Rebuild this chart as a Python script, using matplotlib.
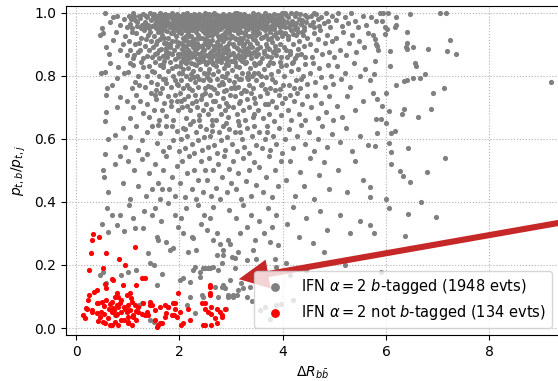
import matplotlib
matplotlib.use("Agg")
import matplotlib.pyplot as plt
import numpy as np

# gray points: IFN alpha=2, b-tagged (band by band in y)
gray_y95 = [
    (0.50, 0.95), (0.57, 1.0), (0.66, 0.97), (0.79, 0.99), (0.85, 0.96), (0.93, 0.98), (0.98, 0.955), (0.72, 0.985),
    (1.02, 0.99), (1.05, 0.965), (1.09, 0.952), (1.11, 0.998), (1.15, 0.975), (1.18, 0.958), (1.21, 0.99), (1.24, 0.982),
    (1.27, 0.96), (1.3, 0.995), (1.33, 0.97), (1.35, 0.953), (1.38, 0.985), (1.4, 0.962), (1.43, 0.998), (1.45, 0.975),
    (1.47, 0.956), (1.49, 0.988), (1.07, 0.98), (1.19, 0.97), (1.26, 0.95), (1.36, 0.99), (1.42, 0.95), (1.13, 0.99), (1.32, 0.96),
    (1.51, 0.996), (1.52, 0.963), (1.54, 0.978), (1.55, 0.951), (1.57, 0.99), (1.58, 0.969), (1.6, 0.955), (1.61, 0.984),
    (1.63, 0.999), (1.64, 0.961), (1.66, 0.974), (1.67, 0.952), (1.69, 0.988), (1.7, 0.966), (1.72, 0.995), (1.73, 0.957),
    (1.75, 0.979), (1.76, 0.962), (1.78, 0.992), (1.79, 0.971), (1.81, 0.953), (1.82, 0.986), (1.84, 0.965), (1.85, 0.998),
    (1.87, 0.976), (1.88, 0.955), (1.9, 0.989), (1.91, 0.968), (1.93, 0.96), (1.94, 0.982), (1.96, 0.997), (1.97, 0.951),
    (1.99, 0.973), (1.53, 0.987), (1.62, 0.972), (1.71, 0.98), (1.8, 0.96), (1.89, 0.975), (1.95, 0.965), (1.65, 0.991),
    (2.01, 0.99), (2.02, 0.962), (2.04, 0.977), (2.05, 0.953), (2.07, 0.996), (2.08, 0.968), (2.1, 0.984), (2.11, 0.957),
    (2.13, 0.972), (2.14, 0.999), (2.16, 0.961), (2.17, 0.988), (2.19, 0.95), (2.2, 0.975), (2.22, 0.993), (2.23, 0.964),
    (2.25, 0.981), (2.26, 0.955), (2.28, 0.97), (2.29, 0.997), (2.31, 0.959), (2.32, 0.986), (2.34, 0.967), (2.35, 0.951),
    (2.37, 0.979), (2.38, 0.994), (2.4, 0.963), (2.41, 0.973), (2.43, 0.99), (2.44, 0.956), (2.46, 0.983), (2.47, 0.969),
    (2.49, 0.998), (2.03, 0.985), (2.12, 0.993), (2.21, 0.958), (2.3, 0.976), (2.39, 0.952), (2.48, 0.96), (2.18, 0.97),
    (2.27, 0.989), (2.36, 0.962), (2.45, 0.975), (2.06, 0.958), (2.15, 0.98),
    (2.51, 0.965), (2.52, 0.991), (2.54, 0.954), (2.55, 0.978), (2.57, 0.996), (2.58, 0.961), (2.6, 0.983), (2.61, 0.97),
    (2.63, 0.952), (2.64, 0.988), (2.66, 0.974), (2.67, 0.999), (2.69, 0.958), (2.7, 0.981), (2.72, 0.966), (2.73, 0.993),
    (2.75, 0.955), (2.76, 0.976), (2.78, 0.962), (2.79, 0.986), (2.81, 0.951), (2.82, 0.972), (2.84, 0.997), (2.85, 0.959),
    (2.87, 0.98), (2.88, 0.968), (2.9, 0.99), (2.91, 0.953), (2.93, 0.975), (2.94, 0.964), (2.96, 0.995), (2.97, 0.957),
    (2.99, 0.982), (2.53, 0.969), (2.62, 0.96), (2.71, 0.99), (2.8, 0.975), (2.89, 0.96), (2.98, 0.97), (2.56, 0.985),
    (2.65, 0.963), (2.74, 0.972), (2.83, 0.985), (2.92, 0.99), (2.59, 0.952),
    (3.01, 0.968), (3.02, 0.992), (3.04, 0.955), (3.06, 0.979), (3.07, 0.998), (3.09, 0.962), (3.1, 0.985), (3.12, 0.971),
    (3.14, 0.952), (3.15, 0.989), (3.17, 0.966), (3.18, 0.994), (3.2, 0.958), (3.22, 0.977), (3.23, 0.963), (3.25, 0.996),
    (3.27, 0.954), (3.28, 0.982), (3.3, 0.969), (3.31, 0.99), (3.33, 0.957), (3.35, 0.975), (3.36, 0.961), (3.38, 0.987),
    (3.4, 0.95), (3.41, 0.972), (3.43, 0.998), (3.44, 0.964), (3.46, 0.981), (3.48, 0.956), (3.49, 0.991), (3.05, 0.975),
    (3.13, 0.96), (3.21, 0.99), (3.29, 0.97), (3.37, 0.96), (3.45, 0.975), (3.11, 0.998), (3.26, 0.97), (3.42, 0.985),
    (3.51, 0.973), (3.53, 0.995), (3.55, 0.958), (3.56, 0.982), (3.58, 0.966), (3.6, 0.99), (3.62, 0.953), (3.63, 0.977),
    (3.65, 0.998), (3.67, 0.962), (3.69, 0.985), (3.7, 0.969), (3.72, 0.951), (3.74, 0.993), (3.76, 0.975), (3.77, 0.958),
    (3.79, 0.988), (3.81, 0.966), (3.83, 0.997), (3.84, 0.955), (3.86, 0.979), (3.88, 0.963), (3.9, 0.992), (3.92, 0.971),
    (3.94, 0.954), (3.96, 0.986), (3.98, 0.968), (3.57, 0.97), (3.68, 0.96), (3.78, 0.98), (3.89, 0.98), (3.99, 0.999),
    (4.01, 0.978), (4.03, 0.957), (4.06, 0.993), (4.08, 0.969), (4.11, 0.985), (4.13, 0.953), (4.16, 0.998), (4.18, 0.974),
    (4.21, 0.961), (4.23, 0.989), (4.26, 0.967), (4.28, 0.952), (4.31, 0.981), (4.33, 0.996), (4.36, 0.963), (4.38, 0.977),
    (4.41, 0.955), (4.43, 0.991), (4.46, 0.97), (4.48, 0.985), (4.05, 0.999), (4.25, 0.999),
    (4.52, 0.962), (4.55, 0.988), (4.58, 0.971), (4.61, 0.953), (4.64, 0.996), (4.68, 0.979), (4.71, 0.958), (4.75, 0.985),
    (4.79, 0.966), (4.83, 0.999), (4.87, 0.972), (4.91, 0.955), (4.95, 0.99), (4.6, 0.999),
    (5.03, 0.975), (5.08, 0.998), (5.14, 0.958), (5.2, 0.985), (5.27, 0.966), (5.33, 0.999), (5.4, 0.972), (5.46, 0.955),
    (5.55, 0.99), (5.62, 0.962), (5.8, 0.972), (5.88, 1.0), (5.92, 0.974), (5.95, 1.0), (5.98, 0.955), (5.7, 0.985),
    (6.02, 0.948), (6.03, 1.0), (6.2, 0.985), (6.46, 0.995), (6.19, 0.961), (6.17, 0.954), (6.4, 0.938), (7.04, 1.0), (7.16, 1.0),
]

gray_y85 = [
    (0.46, 0.93), (0.53, 0.935), (0.59, 0.892), (0.72, 0.914), (0.85, 0.882), (0.63, 0.87), (0.78, 0.94), (0.9, 0.9),
    (0.98, 0.866), (0.95, 0.925),
    (1.02, 0.91), (1.05, 0.88), (1.08, 0.94), (1.12, 0.865), (1.15, 0.9), (1.17, 0.935), (1.2, 0.875), (1.24, 0.882),
    (1.26, 0.92), (1.29, 0.855), (1.31, 0.945), (1.34, 0.895), (1.37, 0.861), (1.39, 0.928), (1.42, 0.88), (1.45, 0.91),
    (1.48, 0.858), (1.1, 0.855), (1.22, 0.905), (1.35, 0.915), (1.44, 0.94), (1.49, 0.89),
    (1.51, 0.925), (1.53, 0.87), (1.55, 0.9), (1.56, 0.872), (1.58, 0.94), (1.6, 0.855), (1.62, 0.915), (1.64, 0.885),
    (1.66, 0.93), (1.68, 0.862), (1.7, 0.905), (1.72, 0.945), (1.74, 0.878), (1.75, 0.903), (1.77, 0.858), (1.79, 0.92),
    (1.81, 0.89), (1.83, 0.935), (1.85, 0.868), (1.86, 0.91), (1.88, 0.935), (1.9, 0.88), (1.92, 0.852), (1.94, 0.925),
    (1.96, 0.895), (1.98, 0.87), (1.99, 0.94), (1.57, 0.91), (1.65, 0.948), (1.73, 0.865), (1.8, 0.9), (1.87, 0.947),
    (1.93, 0.91), (1.97, 0.86), (1.61, 0.88),
    (2.01, 0.905), (2.02, 0.87), (2.04, 0.935), (2.05, 0.885), (2.07, 0.855), (2.08, 0.92), (2.1, 0.895), (2.11, 0.945),
    (2.13, 0.865), (2.14, 0.91), (2.16, 0.88), (2.17, 0.938), (2.19, 0.857), (2.2, 0.9), (2.22, 0.925), (2.23, 0.872),
    (2.25, 0.945), (2.26, 0.89), (2.28, 0.862), (2.29, 0.915), (2.31, 0.88), (2.32, 0.94), (2.34, 0.852), (2.35, 0.905),
    (2.37, 0.93), (2.38, 0.868), (2.4, 0.895), (2.41, 0.947), (2.43, 0.876), (2.44, 0.918), (2.46, 0.86), (2.47, 0.9),
    (2.49, 0.935), (2.03, 0.95), (2.12, 0.925), (2.21, 0.86), (2.3, 0.9), (2.39, 0.92), (2.48, 0.88), (2.06, 0.9),
    (2.15, 0.85), (2.24, 0.91), (2.33, 0.873), (2.42, 0.86), (2.09, 0.87),
    (2.51, 0.918), (2.52, 0.866), (2.54, 0.94), (2.55, 0.89), (2.57, 0.858), (2.58, 0.928), (2.6, 0.9), (2.61, 0.875),
    (2.63, 0.946), (2.64, 0.912), (2.66, 0.862), (2.67, 0.895), (2.69, 0.935), (2.7, 0.87), (2.72, 0.908), (2.73, 0.853),
    (2.75, 0.925), (2.76, 0.882), (2.78, 0.948), (2.79, 0.898), (2.81, 0.865), (2.82, 0.93), (2.84, 0.885), (2.85, 0.91),
    (2.87, 0.856), (2.88, 0.94), (2.9, 0.875), (2.91, 0.92), (2.93, 0.895), (2.94, 0.862), (2.96, 0.935), (2.97, 0.903),
    (2.99, 0.87), (2.53, 0.9), (2.62, 0.855), (2.71, 0.945), (2.8, 0.915), (2.89, 0.89), (2.98, 0.945), (2.56, 0.93),
    (2.65, 0.88), (2.74, 0.895), (2.83, 0.86), (2.92, 0.85), (2.59, 0.945),
    (3.01, 0.925), (3.03, 0.872), (3.04, 0.9), (3.06, 0.945), (3.08, 0.86), (3.09, 0.915), (3.11, 0.888), (3.13, 0.935),
    (3.14, 0.866), (3.16, 0.905), (3.18, 0.852), (3.19, 0.94), (3.21, 0.878), (3.23, 0.92), (3.24, 0.895), (3.26, 0.86),
    (3.28, 0.932), (3.29, 0.885), (3.31, 0.91), (3.33, 0.948), (3.34, 0.868), (3.36, 0.9), (3.38, 0.925), (3.39, 0.855),
    (3.41, 0.89), (3.43, 0.938), (3.44, 0.875), (3.46, 0.912), (3.48, 0.862), (3.49, 0.93), (3.05, 0.895), (3.15, 0.948),
    (3.25, 0.9), (3.35, 0.875), (3.45, 0.95), (3.1, 0.86), (3.3, 0.87), (3.2, 0.91),
    (3.51, 0.905), (3.53, 0.868), (3.55, 0.935), (3.57, 0.89), (3.59, 0.855), (3.61, 0.922), (3.63, 0.878), (3.65, 0.945),
    (3.67, 0.9), (3.69, 0.862), (3.71, 0.915), (3.73, 0.885), (3.75, 0.938), (3.77, 0.858), (3.79, 0.908), (3.81, 0.875),
    (3.83, 0.93), (3.85, 0.895), (3.87, 0.865), (3.89, 0.918), (3.91, 0.882), (3.93, 0.94), (3.95, 0.9), (3.97, 0.858),
    (3.99, 0.925), (3.6, 0.95), (3.8, 0.95), (3.7, 0.89),
    (4.02, 0.892), (4.05, 0.935), (4.08, 0.86), (4.11, 0.915), (4.14, 0.878), (4.17, 0.945), (4.2, 0.9), (4.23, 0.855),
    (4.26, 0.928), (4.29, 0.885), (4.32, 0.91), (4.35, 0.868), (4.38, 0.94), (4.41, 0.895), (4.44, 0.858), (4.47, 0.92),
    (4.15, 0.87), (4.4, 0.93),
    (4.53, 0.9), (4.57, 0.86), (4.61, 0.935), (4.65, 0.88), (4.69, 0.915), (4.73, 0.945), (4.77, 0.868), (4.81, 0.905),
    (4.86, 0.93), (4.9, 0.875), (4.95, 0.91), (4.99, 0.86),
    (5.04, 0.92), (5.1, 0.88), (5.16, 0.94), (5.22, 0.865), (5.28, 0.905), (5.35, 0.93), (5.42, 0.875), (5.48, 0.91),
    (5.58, 0.89), (5.65, 0.935), (5.75, 0.93), (5.78, 0.915), (5.8, 0.9), (5.82, 0.893), (5.85, 0.88), (5.98, 0.932),
    (6.07, 0.878), (6.4, 0.905), (6.38, 0.892), (6.4, 0.884), (6.52, 0.892), (6.81, 0.885), (7.23, 0.912), (7.18, 0.879),
    (7.36, 0.869),
]

# extra points in the densest core (x 1.6-4.4, y 0.83-1.0)
gray_core = [
    (1.645, 0.943), (1.705, 0.918), (1.765, 0.942), (1.825, 0.9), (1.885, 0.962), (1.945, 0.945), (1.675, 0.838),
    (1.735, 0.889), (1.795, 0.872), (1.855, 0.985),
    (2.005, 0.938), (2.055, 0.972), (2.095, 0.912), (2.145, 0.957), (2.185, 0.927), (2.235, 0.948), (2.275, 0.902),
    (2.325, 0.962), (2.365, 0.918), (2.415, 0.983), (2.455, 0.943), (2.495, 0.913),
    (2.035, 0.842), (2.085, 0.878), (2.135, 0.893), (2.185, 0.875), (2.235, 0.858), (2.285, 0.838), (2.335, 0.888),
    (2.385, 0.845), (2.435, 0.892), (2.485, 0.848),
    (2.525, 0.952), (2.575, 0.91), (2.625, 0.928), (2.675, 0.962), (2.725, 0.942), (2.775, 0.915), (2.825, 0.955),
    (2.875, 0.925), (2.925, 0.945), (2.975, 0.918),
    (2.545, 0.845), (2.595, 0.872), (2.645, 0.838), (2.695, 0.885), (2.745, 0.868), (2.795, 0.852), (2.845, 0.872),
    (2.895, 0.838), (2.945, 0.882), (2.995, 0.848),
    (3.025, 0.952), (3.075, 0.92), (3.125, 0.945), (3.175, 0.918), (3.225, 0.962), (3.275, 0.94), (3.325, 0.925),
    (3.375, 0.955), (3.425, 0.915), (3.475, 0.945),
    (3.045, 0.848), (3.095, 0.832), (3.145, 0.882), (3.195, 0.862), (3.245, 0.875), (3.295, 0.845), (3.345, 0.89),
    (3.395, 0.87), (3.445, 0.84), (3.495, 0.885),
    (3.525, 0.95), (3.575, 0.918), (3.625, 0.962), (3.675, 0.93), (3.725, 0.955), (3.775, 0.92), (3.825, 0.948),
    (3.875, 0.935), (3.925, 0.96), (3.975, 0.94),
    (3.545, 0.84), (3.645, 0.872), (3.745, 0.845), (3.845, 0.88), (3.945, 0.842),
    (4.045, 0.955), (4.095, 0.925), (4.145, 0.962), (4.195, 0.932), (4.245, 0.948), (4.3, 0.94), (4.355, 0.965),
    (4.42, 0.945), (4.07, 0.88), (4.18, 0.84), (4.28, 0.865),
    (1.56, 0.98), (1.68, 0.985), (1.74, 0.97), (1.86, 0.955), (1.98, 0.99), (2.09, 0.98), (2.24, 0.97), (2.33, 0.95),
    (2.42, 0.965), (2.68, 0.97), (2.77, 0.99), (2.86, 0.97), (3.03, 0.98), (3.16, 0.975), (3.24, 0.985), (3.34, 0.99),
    (3.47, 0.965), (3.59, 0.985), (3.71, 0.98), (3.85, 0.97), (3.97, 0.975),
]

gray_y75 = [
    (0.48, 0.81), (0.56, 0.813), (0.66, 0.84), (0.79, 0.792), (0.82, 0.829), (0.7, 0.77), (0.92, 0.81), (0.6, 0.76),
    (1.01, 0.813), (1.05, 0.84), (1.11, 0.834), (1.15, 0.78), (1.2, 0.8), (1.25, 0.845), (1.3, 0.829), (1.33, 0.765),
    (1.37, 0.8), (1.41, 0.83), (1.45, 0.78), (1.48, 0.815), (1.08, 0.76), (1.22, 0.77),
    (1.5, 0.813), (1.53, 0.845), (1.57, 0.775), (1.6, 0.8), (1.63, 0.835), (1.66, 0.76), (1.69, 0.829), (1.72, 0.79),
    (1.75, 0.776), (1.78, 0.815), (1.81, 0.845), (1.84, 0.765), (1.87, 0.8), (1.91, 0.787), (1.94, 0.83), (1.97, 0.77),
    (1.99, 0.81), (1.55, 0.755), (1.7, 0.848), (1.85, 0.825),
    (2.01, 0.83), (2.03, 0.785), (2.05, 0.81), (2.08, 0.76), (2.1, 0.845), (2.12, 0.8), (2.15, 0.772), (2.17, 0.825),
    (2.2, 0.79), (2.22, 0.84), (2.25, 0.755), (2.27, 0.815), (2.3, 0.78), (2.32, 0.835), (2.35, 0.8), (2.37, 0.765),
    (2.4, 0.82), (2.42, 0.848), (2.45, 0.785), (2.47, 0.81), (2.49, 0.76), (2.07, 0.82), (2.23, 0.805), (2.38, 0.79),
    (2.13, 0.84),
    (2.51, 0.838), (2.53, 0.795), (2.56, 0.768), (2.58, 0.82), (2.6, 0.785), (2.63, 0.845), (2.65, 0.805), (2.68, 0.758),
    (2.7, 0.83), (2.72, 0.79), (2.75, 0.815), (2.77, 0.77), (2.8, 0.842), (2.82, 0.8), (2.85, 0.775), (2.87, 0.825),
    (2.9, 0.755), (2.92, 0.81), (2.95, 0.835), (2.97, 0.785), (2.99, 0.762), (2.55, 0.81), (2.73, 0.848), (2.88, 0.795),
    (2.62, 0.765),
    (3.02, 0.818), (3.05, 0.78), (3.08, 0.845), (3.1, 0.8), (3.13, 0.765), (3.16, 0.828), (3.19, 0.79), (3.22, 0.81),
    (3.25, 0.755), (3.28, 0.84), (3.31, 0.795), (3.34, 0.772), (3.37, 0.825), (3.4, 0.8), (3.43, 0.76), (3.46, 0.835),
    (3.49, 0.785), (3.07, 0.76), (3.21, 0.848), (3.33, 0.81), (3.45, 0.81), (3.15, 0.79),
    (3.52, 0.81), (3.56, 0.845), (3.6, 0.775), (3.63, 0.82), (3.67, 0.795), (3.71, 0.835), (3.75, 0.762), (3.78, 0.805),
    (3.82, 0.84), (3.86, 0.78), (3.9, 0.815), (3.94, 0.757), (3.97, 0.83), (3.65, 0.757), (3.8, 0.79), (3.58, 0.8),
    (4.03, 0.8), (4.07, 0.835), (4.12, 0.77), (4.16, 0.815), (4.2, 0.845), (4.25, 0.785), (4.3, 0.822), (4.34, 0.76),
    (4.39, 0.8), (4.43, 0.838), (4.47, 0.775), (4.22, 0.76),
    (4.52, 0.81), (4.58, 0.84), (4.63, 0.78), (4.7, 0.825), (4.75, 0.795), (4.82, 0.765), (4.88, 0.835), (4.94, 0.8),
    (4.98, 0.775),
    (5.05, 0.83), (5.12, 0.79), (5.2, 0.81), (5.3, 0.765), (5.38, 0.84), (5.5, 0.8), (5.6, 0.82), (5.69, 0.787),
    (5.76, 0.806), (5.78, 0.847),
    (6.07, 0.831), (6.56, 0.84), (6.58, 0.832), (6.75, 0.806), (6.65, 0.794), (6.52, 0.792), (6.4, 0.787), (6.35, 0.783),
    (9.2, 0.78), (6.2, 0.77),
    (1.52, 0.74), (1.68, 0.79), (1.83, 0.72), (1.96, 0.775), (2.04, 0.72), (2.18, 0.76), (2.29, 0.795), (2.44, 0.74),
    (2.57, 0.79), (2.69, 0.72), (2.83, 0.78), (2.94, 0.705), (3.06, 0.765), (3.18, 0.72), (3.32, 0.79), (3.44, 0.73),
    (3.58, 0.77), (3.72, 0.71), (3.86, 0.755), (4.0, 0.77), (4.14, 0.74), (4.36, 0.79),
]

gray_y65 = [
    (0.59, 0.686), (0.59, 0.74), (0.79, 0.702), (0.85, 0.734), (0.56, 0.655), (0.98, 0.72),
    (1.11, 0.702), (1.17, 0.739), (1.3, 0.681), (1.37, 0.71), (1.45, 0.745), (1.05, 0.665), (1.23, 0.72), (1.42, 0.67),
    (1.5, 0.692),
    (1.55, 0.725), (1.62, 0.745), (1.66, 0.69), (1.7, 0.715), (1.75, 0.671), (1.79, 0.735), (1.84, 0.705), (1.88, 0.66),
    (1.92, 0.74), (1.98, 0.692), (1.6, 0.66), (1.95, 0.72),
    (2.02, 0.745), (2.05, 0.7), (2.09, 0.725), (2.12, 0.665), (2.16, 0.735), (2.2, 0.69), (2.24, 0.715), (2.27, 0.655),
    (2.31, 0.74), (2.35, 0.7), (2.38, 0.675), (2.42, 0.725), (2.46, 0.69), (2.49, 0.745), (2.14, 0.705), (2.33, 0.72),
    (2.52, 0.71), (2.55, 0.68), (2.59, 0.74), (2.62, 0.695), (2.66, 0.72), (2.7, 0.66), (2.73, 0.745), (2.77, 0.705),
    (2.8, 0.68), (2.84, 0.73), (2.88, 0.69), (2.91, 0.715), (2.95, 0.67), (2.98, 0.74), (2.64, 0.66), (2.86, 0.752),
    (3.03, 0.7), (3.07, 0.735), (3.11, 0.68), (3.15, 0.715), (3.19, 0.745), (3.23, 0.69), (3.27, 0.66), (3.31, 0.725),
    (3.35, 0.7), (3.39, 0.745), (3.43, 0.67), (3.47, 0.715), (3.13, 0.655), (3.29, 0.75),
    (3.52, 0.69), (3.56, 0.735), (3.61, 0.665), (3.65, 0.71), (3.7, 0.745), (3.74, 0.68), (3.79, 0.72), (3.83, 0.655),
    (3.88, 0.7), (3.92, 0.74), (3.96, 0.675), (3.99, 0.715),
    (4.04, 0.73), (4.1, 0.69), (4.16, 0.66), (4.21, 0.72), (4.27, 0.745), (4.32, 0.68), (4.38, 0.71), (4.44, 0.66),
    (4.48, 0.735),
    (4.55, 0.7), (4.62, 0.74), (4.68, 0.665), (4.75, 0.715), (4.83, 0.685), (4.9, 0.735), (4.97, 0.66),
    (5.06, 0.705), (5.15, 0.67), (5.25, 0.735), (5.4, 0.69), (5.55, 0.72), (5.74, 0.744), (5.83, 0.727), (5.8, 0.664),
    (5.91, 0.662), (5.92, 0.704),
    (6.0, 0.744), (6.0, 0.651), (6.34, 0.696), (6.3, 0.679), (6.87, 0.694), (6.05, 0.687), (6.62, 0.669), (6.91, 0.745),
    (7.12, 0.762),
    (2.1, 0.63), (2.38, 0.66), (2.63, 0.625), (2.9, 0.65), (3.18, 0.62), (3.45, 0.68), (3.7, 0.62), (1.85, 0.64),
]

gray_y55 = [
    (0.62, 0.6), (0.75, 0.612), (0.91, 0.634), (0.56, 0.553), (0.95, 0.575),
    (1.04, 0.607), (1.17, 0.639), (1.27, 0.596), (1.37, 0.623), (1.37, 0.553), (1.48, 0.64), (1.2, 0.565),
    (1.56, 0.586), (1.62, 0.618), (1.69, 0.56), (1.75, 0.64), (1.88, 0.596), (1.8, 0.575), (1.95, 0.625), (1.58, 0.645),
    (1.99, 0.56),
    (2.03, 0.6), (2.07, 0.635), (2.11, 0.57), (2.15, 0.61), (2.2, 0.648), (2.24, 0.585), (2.28, 0.555), (2.32, 0.62),
    (2.36, 0.595), (2.4, 0.64), (2.44, 0.565), (2.48, 0.605),
    (2.52, 0.63), (2.56, 0.575), (2.6, 0.61), (2.64, 0.645), (2.68, 0.58), (2.72, 0.555), (2.76, 0.62), (2.8, 0.595),
    (2.84, 0.64), (2.88, 0.565), (2.92, 0.605), (2.97, 0.63),
    (3.02, 0.585), (3.07, 0.62), (3.12, 0.56), (3.16, 0.645), (3.21, 0.6), (3.26, 0.575), (3.3, 0.635), (3.35, 0.555),
    (3.4, 0.61), (3.44, 0.64), (3.48, 0.58),
    (3.54, 0.62), (3.6, 0.57), (3.65, 0.6), (3.7, 0.64), (3.76, 0.565), (3.81, 0.61), (3.87, 0.585), (3.92, 0.635),
    (3.98, 0.555),
    (4.05, 0.6), (4.12, 0.63), (4.2, 0.57), (4.28, 0.61), (4.35, 0.645), (4.43, 0.585), (4.5, 0.62), (4.6, 0.56),
    (4.68, 0.6), (4.77, 0.64), (4.86, 0.575), (4.95, 0.615),
    (5.1, 0.59), (5.22, 0.635), (5.35, 0.56), (5.5, 0.61), (5.65, 0.58), (5.83, 0.618), (5.78, 0.577),
    (6.1, 0.617), (6.18, 0.626), (6.06, 0.588), (6.09, 0.557), (6.42, 0.57), (7.14, 0.538),
]

gray_y40 = [
    (0.53, 0.5), (0.55, 0.48), (0.62, 0.43), (0.75, 0.52), (0.9, 0.46), (0.85, 0.545),
    (1.05, 0.41), (1.12, 0.5), (1.2, 0.45), (1.28, 0.535), (1.35, 0.42), (1.42, 0.49), (1.47, 0.44), (1.0, 0.53),
    (1.52, 0.52), (1.58, 0.46), (1.63, 0.41), (1.68, 0.5), (1.74, 0.545), (1.8, 0.44), (1.86, 0.48), (1.91, 0.42),
    (1.96, 0.515), (1.66, 0.44),
    (2.02, 0.46), (2.06, 0.53), (2.1, 0.415), (2.15, 0.49), (2.19, 0.545), (2.24, 0.44), (2.28, 0.5), (2.33, 0.41),
    (2.37, 0.47), (2.42, 0.53), (2.46, 0.43), (2.49, 0.5),
    (2.53, 0.47), (2.57, 0.54), (2.61, 0.42), (2.66, 0.5), (2.7, 0.445), (2.74, 0.52), (2.79, 0.41), (2.83, 0.48),
    (2.87, 0.545), (2.92, 0.43), (2.96, 0.505), (2.99, 0.46),
    (3.04, 0.53), (3.09, 0.44), (3.14, 0.49), (3.19, 0.41), (3.24, 0.54), (3.29, 0.465), (3.34, 0.5), (3.39, 0.42),
    (3.44, 0.525), (3.49, 0.455),
    (3.55, 0.51), (3.61, 0.43), (3.67, 0.48), (3.73, 0.545), (3.79, 0.415), (3.85, 0.5), (3.91, 0.45), (3.97, 0.53),
    (4.06, 0.47), (4.15, 0.53), (4.24, 0.42), (4.33, 0.495), (4.42, 0.45), (4.52, 0.54), (4.61, 0.41), (4.7, 0.485),
    (4.8, 0.525), (4.9, 0.44),
    (5.08, 0.5), (5.25, 0.43), (5.4, 0.53), (5.55, 0.47), (5.69, 0.448), (5.69, 0.416),
    (6.27, 0.499), (6.33, 0.482), (6.47, 0.463), (6.8, 0.495), (6.0, 0.408), (6.67, 0.4), (6.1, 0.52),
]

gray_y25 = [
    (0.5, 0.33), (0.6, 0.38), (0.7, 0.36), (0.85, 0.36), (0.62, 0.303), (0.79, 0.327), (0.93, 0.308),
    (1.03, 0.39), (1.1, 0.35), (1.14, 0.318), (1.3, 0.318), (1.32, 0.37), (1.4, 0.237), (1.47, 0.36),
    (1.52, 0.38), (1.56, 0.29), (1.59, 0.279), (1.65, 0.34), (1.75, 0.274), (1.78, 0.395), (1.82, 0.247), (1.88, 0.255),
    (1.91, 0.36), (1.97, 0.32),
    (2.03, 0.35), (2.08, 0.3), (2.13, 0.38), (2.17, 0.242), (2.24, 0.29), (2.27, 0.284), (2.33, 0.247), (2.36, 0.39),
    (2.41, 0.33), (2.47, 0.36),
    (2.53, 0.31), (2.59, 0.35), (2.65, 0.385), (2.66, 0.279), (2.72, 0.3), (2.72, 0.233), (2.79, 0.268), (2.85, 0.233),
    (2.85, 0.247), (2.95, 0.279), (2.98, 0.268), (2.96, 0.375),
    (3.01, 0.226), (3.08, 0.221), (3.1, 0.35), (3.14, 0.242), (3.17, 0.3), (3.24, 0.39), (3.31, 0.32), (3.38, 0.36),
    (3.43, 0.247), (3.46, 0.28),
    (3.55, 0.34), (3.63, 0.3), (3.71, 0.38), (3.75, 0.273), (3.79, 0.32), (3.87, 0.36), (3.91, 0.263),
    (4.08, 0.33), (4.2, 0.385), (4.32, 0.29), (4.45, 0.35), (4.58, 0.27), (4.72, 0.37), (4.86, 0.31),
    (5.1, 0.36), (5.3, 0.3), (5.5, 0.34), (5.69, 0.327), (5.76, 0.3),
    (6.43, 0.362), (6.96, 0.353), (6.36, 0.293), (6.05, 0.38),
]

gray_low = [
    (0.46, 0.168), (0.53, 0.179), (0.59, 0.142), (0.88, 0.168), (1.01, 0.179), (1.17, 0.184), (1.43, 0.205),
    (1.5, 0.2), (1.56, 0.138), (1.66, 0.17), (2.01, 0.152), (2.08, 0.158), (2.2, 0.147), (2.27, 0.184), (2.3, 0.194),
    (2.4, 0.179), (2.4, 0.163), (2.46, 0.189), (2.49, 0.191), (2.56, 0.189), (2.59, 0.189), (2.66, 0.195), (2.69, 0.131),
    (2.75, 0.184), (2.82, 0.205), (2.82, 0.131), (2.85, 0.136), (2.88, 0.128), (2.98, 0.152), (3.07, 0.189),
    (3.3, 0.215), (3.49, 0.22), (3.85, 0.22), (3.88, 0.194), (4.07, 0.205), (4.14, 0.168), (4.46, 0.184), (3.2, 0.142),
    (3.24, 0.126), (3.36, 0.131), (3.14, 0.121), (3.11, 0.105), (3.04, 0.1), (3.04, 0.105), (2.95, 0.105), (2.95, 0.1),
    (2.75, 0.1), (3.3, 0.1), (2.43, 0.105), (2.46, 0.1), (2.2, 0.1), (2.14, 0.073), (2.3, 0.047), (2.91, 0.062),
    (1.27, 0.078), (1.21, 0.073), (1.43, 0.026), (1.5, 0.02), (0.75, 0.042), (5.91, 0.179), (4.8, 0.24), (5.2, 0.2),
    (3.56, 0.057), (3.65, 0.067), (3.88, 0.072), (3.97, 0.077), (3.4, 0.085), (4.2, 0.09), (3.75, 0.03),
]

# red points: IFN alpha=2, not b-tagged
red_pts = [
    (0.335, 0.298), (0.45, 0.29), (0.3, 0.28), (0.29, 0.237), (0.58, 0.237), (1.15, 0.257), (0.84, 0.218),
    (0.95, 0.2), (0.26, 0.183), (0.53, 0.19), (0.69, 0.157), (0.72, 0.152), (1.27, 0.158), (1.33, 0.16),
    (0.91, 0.138), (1.17, 0.138), (0.56, 0.141), (0.25, 0.105), (0.35, 0.115), (0.4, 0.12), (0.59, 0.126),
    (0.79, 0.11), (0.82, 0.099), (0.98, 0.105), (1.04, 0.11), (0.24, 0.09), (0.43, 0.078), (0.5, 0.084),
    (0.59, 0.09), (0.69, 0.084), (0.75, 0.099), (0.79, 0.073), (0.85, 0.078), (0.92, 0.068), (1.01, 0.073),
    (1.08, 0.084), (1.14, 0.073), (1.3, 0.078), (1.43, 0.084), (0.19, 0.065), (0.3, 0.058), (0.4, 0.047),
    (0.48, 0.05), (0.55, 0.044), (0.63, 0.062), (0.69, 0.05), (0.74, 0.058), (0.82, 0.068), (0.88, 0.05),
    (0.98, 0.05), (1.04, 0.058), (1.11, 0.042), (1.17, 0.055), (1.27, 0.044), (1.37, 0.05), (1.48, 0.073),
    (0.17, 0.033), (0.43, 0.022), (0.53, 0.02), (0.66, 0.011), (0.75, 0.018), (0.82, 0.01), (0.92, 0.025),
    (1.01, 0.018), (1.08, 0.01), (1.17, 0.025), (1.4, 0.042), (1.53, 0.025), (1.59, 0.01), (1.66, 0.016),
    (1.53, 0.058), (1.62, 0.068), (1.72, 0.073), (1.79, 0.068), (1.88, 0.078), (1.92, 0.062), (1.98, 0.11),
    (2.01, 0.052), (1.95, 0.036), (1.86, 0.042), (1.75, 0.047), (2.08, 0.015), (2.21, 0.025), (2.17, 0.062),
    (2.43, 0.078), (2.5, 0.062), (2.6, 0.131), (2.6, 0.106), (2.62, 0.068), (2.62, 0.044), (2.79, 0.05),
    (2.82, 0.036), (2.62, 0.01), (2.5, 0.011), (2.72, 0.015), (2.88, 0.062), (2.59, 0.136), (2.59, 0.111),
    (0.14, 0.041), (0.21, 0.062), (0.3, 0.052), (0.4, 0.078), (0.46, 0.036), (0.56, 0.015), (0.62, 0.031),
    (0.69, 0.01), (0.79, 0.046), (0.88, 0.025), (0.98, 0.057), (1.01, 0.015), (1.11, 0.036), (1.2, 0.068),
    (1.33, 0.041), (1.43, 0.073), (1.56, 0.004), (1.62, 0.015), (1.72, 0.036), (1.79, 0.068), (1.89, 0.041),
    (1.91, 0.078), (2.04, 0.01), (2.49, 0.078), (2.56, 0.052), (2.69, 0.031), (2.72, 0.062), (2.82, 0.041),
    (2.46, 0.01), (0.65, 0.075), (0.72, 0.065), (0.88, 0.09), (0.95, 0.06), (1.06, 0.095), (0.55, 0.07),
    (1.2, 0.05), (0.78, 0.04), (1.0, 0.035),
]

gray_label = r"IFN $\alpha = 2$ $b$-tagged (1948 evts)"
red_label = r"IFN $\alpha = 2$ not $b$-tagged (134 evts)"

gray = np.array(gray_y95 + gray_y85 + gray_core + gray_y75 + gray_y65 + gray_y55 + gray_y40 + gray_y25 + gray_low)
red = np.array(red_pts)

fig = plt.figure(figsize=(5.58, 3.81), dpi=100)
ax = fig.add_axes([0.1177, 0.1207, 0.8843, 0.8636])

ax.scatter(gray[:, 0], gray[:, 1], s=14, color="gray", linewidths=0, label=gray_label, zorder=2)
ax.scatter(red[:, 0], red[:, 1], s=14, color="red", linewidths=0, label=red_label, zorder=2)

ax.set_xlim(-0.2, 9.35)
ax.set_ylim(-0.022, 1.021)
ax.set_xticks([0, 2, 4, 6, 8])
ax.set_yticks([0.0, 0.2, 0.4, 0.6, 0.8, 1.0])
ax.grid(True, linestyle=":", color="#b0b0b0", linewidth=0.8, zorder=0)
ax.set_axisbelow(True)
ax.spines["right"].set_visible(False)

ax.set_xlabel(r"$\Delta R_{b\bar{b}}$", fontsize=10)
ax.set_ylabel(r"$p_{t,b}/p_{t,j}$", fontsize=10)

ax.legend(loc="lower right", markerscale=1.7, fontsize=10.5)

ax.annotate("", xy=(3.15, 0.155), xytext=(11.1, 0.384),
            xycoords="data", textcoords="data", annotation_clip=False,
            arrowprops=dict(facecolor="#c62828", edgecolor="none", linewidth=0,
                            width=4.4, headwidth=21.0, headlength=21.5, shrink=0.0),
            zorder=5)

fig.savefig("out.png", dpi=100)
